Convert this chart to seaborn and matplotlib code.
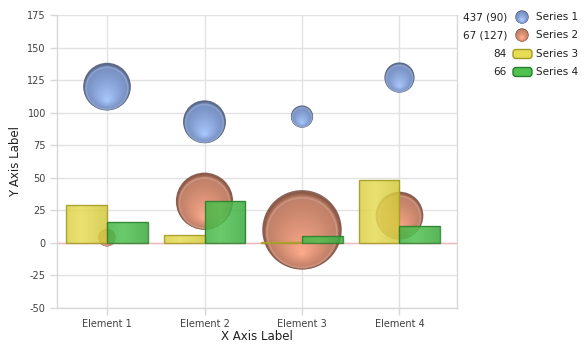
import numpy as np
import pandas as pd
import matplotlib
matplotlib.use("Agg")
import matplotlib.pyplot as plt
import matplotlib.transforms as mtransforms
from matplotlib.colors import to_rgb
from matplotlib.patches import Circle, FancyBboxPatch
import seaborn as sns

# ---- data ----
elements = ["Element 1", "Element 2", "Element 3", "Element 4"]
series1_y = [120, 93, 97, 127]
series1_size = [30, 27, 14, 19]
series2_y = [4, 32, 10, 21]
series2_size = [11, 36, 50, 30]
series3 = [29, 6, 1, 48]
series4 = [16, 32, 5, 13]
y_ticks = [-50, -25, 0, 25, 50, 75, 100, 125, 150, 175]

# ---- styling ----
sns.set_theme(style="white")
plt.rcParams["font.family"] = ["DejaVu Sans"]

DPI = 100
W, H = 584, 350
PX_PER_SIZE = 0.795          # bubble radius in pixels per unit of size

# (rim, body, highlight) colours of the shaded bubbles
bubble_colors = {
    "Series 1": ("#4a5672", "#7890c2", "#a8c6fc"),
    "Series 2": ("#774839", "#c08068", "#fda98b"),
}
# (base, light, edge) colours of the bars
bar_colors = {
    "Series 3": ("#d2c83c", "#e6dc56", "#a39a24"),
    "Series 4": ("#3aaa3c", "#50c250", "#2a7e2c"),
}

fig = plt.figure(figsize=(W / DPI, H / DPI), dpi=DPI)
ax = fig.add_axes([57 / W, 1 - 308 / H, 400 / W, 293 / H])

x_pos = np.arange(len(elements))


def lerp(c1, c2, t):
    a, b = np.array(to_rgb(c1)), np.array(to_rgb(c2))
    return tuple(a + (b - a) * t)


def shade(t, rim, body, hi):
    if t < 0.1:
        return lerp(rim, body, t / 0.1)
    u = (t - 0.1) / 0.9
    return lerp(body, hi, u ** 1.2)


def draw_bubbles(ys, sizes, name, z):
    rim, body, hi = bubble_colors[name]
    radii = np.array(sizes) * PX_PER_SIZE
    df = pd.DataFrame({"x": x_pos, "y": ys})
    # base disc
    sns.scatterplot(data=df, x="x", y="y", ax=ax, s=(2 * radii * 72 / DPI) ** 2,
                    color=rim, edgecolor="none", alpha=0.85, zorder=z, legend=False)
    n = 36
    for k in range(1, n):
        t = k / (n - 1)
        f = 1 - 0.95 * t
        for xi, yi, r in zip(x_pos, ys, radii):
            dy = -r * (1 - f) * 0.6
            tr = mtransforms.offset_copy(ax.transData, fig=fig, x=0, y=dy, units="dots")
            ax.scatter([xi], [yi], s=(2 * r * f * 72 / DPI) ** 2, color=shade(t, rim, body, hi),
                       edgecolors="none", alpha=0.85 if k < 3 else 1.0, transform=tr, zorder=z)
    # glossy cap near the top
    for xi, yi, r in zip(x_pos, ys, radii):
        tr = mtransforms.offset_copy(ax.transData, fig=fig, x=0, y=-r * 0.07, units="dots")
        ax.scatter([xi], [yi], s=(2 * r * 0.88 * 72 / DPI) ** 2, facecolors="none",
                   edgecolors=(1, 1, 1, 0.16), linewidths=1.3, transform=tr, zorder=z)


draw_bubbles(series1_y, series1_size, "Series 1", 3)
draw_bubbles(series2_y, series2_size, "Series 2", 3)

# ---- grouped bars ----
bars_df = pd.DataFrame({
    "element": elements * 2,
    "value": series3 + series4,
    "series": ["Series 3"] * 4 + ["Series 4"] * 4,
})
sns.barplot(data=bars_df, x="element", y="value", hue="series", ax=ax, width=0.84,
            palette={k: v[0] for k, v in bar_colors.items()}, saturation=1,
            legend=False, zorder=4, err_kws={"linewidth": 0})

bar_patches = [p for p in ax.patches if hasattr(p, "get_width")]
order = ["Series 3"] * 4 + ["Series 4"] * 4
for p, name in zip(bar_patches, order):
    base, light, edge = bar_colors[name]
    x0, y0 = p.get_x(), p.get_y()
    w, h = p.get_width(), p.get_height()
    u = np.linspace(0, 1, 64)
    prof = np.clip(1 - np.abs(u - 0.38) / 0.62, 0, 1)
    grad = np.array([lerp(base, light, v) for v in prof])[None, :, :]
    im = ax.imshow(grad, extent=[x0, x0 + w, min(y0, y0 + h), max(y0, y0 + h)],
                   aspect="auto", alpha=0.85, zorder=4, interpolation="bilinear")
    im.set_clip_path(p)
    p.set_facecolor("none")
    p.set_edgecolor(edge)
    p.set_linewidth(1.0)
    p.set_alpha(0.85)
    p.set_zorder(4.1)

# ---- axes ----
ax.axhline(0, color="#f3b8c0", lw=1, zorder=2)
ax.set_ylim(-50, 175)
ax.set_xlim(-0.513, 3.59)
ax.set_yticks(y_ticks)
ax.set_yticklabels([str(v) for v in y_ticks])
ax.set_xticks(x_pos)
ax.set_xticklabels(elements)
ax.grid(True, color="#e2e2e2", lw=1)
ax.set_axisbelow(True)
for s in ax.spines.values():
    s.set_color("#d8d8d8")
    s.set_linewidth(1)
ax.spines["top"].set_visible(False)
ax.tick_params(axis="both", which="both", length=5, width=1, color="#d8d8d8",
               labelsize=7, labelcolor="#404040", pad=3, left=True, bottom=True)
ax.set_xlabel("X Axis Label", fontsize=8.5, color="#202020", labelpad=1)
ax.set_ylabel("Y Axis Label", fontsize=8.5, color="#202020", labelpad=4)

# ---- legend ----
ident = mtransforms.IdentityTransform()
rows = [("Series 1", f"{sum(series1_y)} ({sum(series1_size)})"),
        ("Series 2", f"{sum(series2_y)} ({sum(series2_size)})"),
        ("Series 3", f"{sum(series3)}"),
        ("Series 4", f"{sum(series4)}")]
row_y = [17, 35, 54, 72]
for (name, total), yy in zip(rows, row_y):
    py = H - yy
    fig.text(507 / W, py / H, total, ha="right", va="center", fontsize=7.5, color="#202020")
    fig.text(536 / W, py / H, name, ha="left", va="center", fontsize=7.5, color="#202020")
    if name in bubble_colors:
        rim, body, hi = bubble_colors[name]
        for k in range(12):
            t = k / 11
            f = 1 - 0.9 * t
            fig.patches.append(Circle((522, py - 6 * (1 - f) * 0.55), 6 * f,
                                      color=shade(t, rim, body, hi),
                                      transform=ident, figure=fig))
    else:
        base, light, edge = bar_colors[name]
        fig.patches.append(FancyBboxPatch((513, py - 4.5), 19, 9,
                                          boxstyle="round,pad=0,rounding_size=3",
                                          facecolor=light, edgecolor=edge, lw=1,
                                          transform=ident, figure=fig))

fig.savefig("out.png", dpi=DPI)
